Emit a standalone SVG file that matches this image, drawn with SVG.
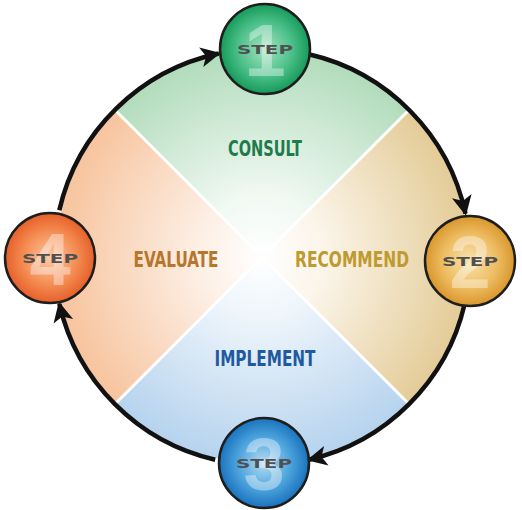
<svg xmlns="http://www.w3.org/2000/svg" width="522" height="510" viewBox="0 0 522 510">
<style>
.lbl{font-family:"Liberation Sans Narrow","DejaVu Sans Condensed","Liberation Sans",sans-serif;font-weight:bold;font-size:21px;text-anchor:middle}
.step{font-family:"DejaVu Sans","Liberation Sans",sans-serif;font-weight:bold;font-size:12px;fill:#505050;text-anchor:middle}
.num{font-family:"Liberation Sans","DejaVu Sans",sans-serif;font-weight:bold;font-size:74px;fill:#ffffff;fill-opacity:0.38;text-anchor:middle}
.node{stroke:#1e1e1e;stroke-width:2.5}
.arc{fill:none;stroke:#111;stroke-width:4.5;marker-end:url(#ah)}
.div{stroke:#ffffff;stroke-width:3}
</style>
<defs>
<marker id="ah" markerUnits="userSpaceOnUse" markerWidth="20" markerHeight="22" viewBox="0 -11 20 22" refX="18" refY="0" orient="auto">
<path d="M0,-10 L20,0 L0,10 L5,0 Z" fill="#111"/>
</marker>
<radialGradient id="gG" cx="262" cy="257" r="206" gradientUnits="userSpaceOnUse"><stop offset="0" stop-color="#ffffff"/><stop offset="0.3" stop-color="#f1f9f3"/><stop offset="1" stop-color="#b2dcbc"/></radialGradient>
<radialGradient id="gT" cx="262" cy="257" r="206" gradientUnits="userSpaceOnUse"><stop offset="0" stop-color="#ffffff"/><stop offset="0.3" stop-color="#fbf5ea"/><stop offset="1" stop-color="#e4cc98"/></radialGradient>
<radialGradient id="gB" cx="262" cy="257" r="206" gradientUnits="userSpaceOnUse"><stop offset="0" stop-color="#ffffff"/><stop offset="0.3" stop-color="#eef5fb"/><stop offset="1" stop-color="#b6d3ee"/></radialGradient>
<radialGradient id="gO" cx="262" cy="257" r="206" gradientUnits="userSpaceOnUse"><stop offset="0" stop-color="#ffffff"/><stop offset="0.3" stop-color="#fdf0e6"/><stop offset="1" stop-color="#f7c49e"/></radialGradient>
<radialGradient id="n1" cx="0.5" cy="0.5" r="0.5"><stop offset="0" stop-color="#a6e2c2"/><stop offset="0.6" stop-color="#4cc08a"/><stop offset="1" stop-color="#169a5a"/></radialGradient>
<radialGradient id="n2" cx="0.5" cy="0.5" r="0.5"><stop offset="0" stop-color="#f8e3b0"/><stop offset="0.6" stop-color="#eebd62"/><stop offset="1" stop-color="#d9962c"/></radialGradient>
<radialGradient id="n3" cx="0.5" cy="0.5" r="0.5"><stop offset="0" stop-color="#b6dcf4"/><stop offset="0.6" stop-color="#4aa2dc"/><stop offset="1" stop-color="#1a72bd"/></radialGradient>
<radialGradient id="n4" cx="0.5" cy="0.5" r="0.5"><stop offset="0" stop-color="#fbcaa6"/><stop offset="0.6" stop-color="#f48c52"/><stop offset="1" stop-color="#e6602a"/></radialGradient>
</defs>
<rect width="522" height="510" fill="#ffffff"/>
<g id="quadrants">
<path d="M262,257 L116.3,111.3 A206,206 0 0 1 407.7,111.3 Z" fill="url(#gG)"/>
<path d="M262,257 L407.7,111.3 A206,206 0 0 1 407.7,402.7 Z" fill="url(#gT)"/>
<path d="M262,257 L407.7,402.7 A206,206 0 0 1 116.3,402.7 Z" fill="url(#gB)"/>
<path d="M262,257 L116.3,402.7 A206,206 0 0 1 116.3,111.3 Z" fill="url(#gO)"/>
<line class="div" x1="116.3" y1="111.3" x2="407.7" y2="402.7"/>
<line class="div" x1="407.7" y1="111.3" x2="116.3" y2="402.7"/>
</g>
<g id="labels">
<text class="lbl" x="265" y="156" fill="#1f7a4c" textLength="74" lengthAdjust="spacingAndGlyphs">CONSULT</text>
<text class="lbl" x="352" y="267" fill="#bf9a2e" textLength="114" lengthAdjust="spacingAndGlyphs">RECOMMEND</text>
<text class="lbl" x="265" y="366" fill="#1f5aa0" textLength="101" lengthAdjust="spacingAndGlyphs">IMPLEMENT</text>
<text class="lbl" x="176" y="267" fill="#b8752c" textLength="85" lengthAdjust="spacingAndGlyphs">EVALUATE</text>
</g>
<g id="connectors">
<path class="arc" d="M308.8,54.3 A208,208 0 0 1 465.5,213.8"/>
<path class="arc" d="M464.7,303.8 A208,208 0 0 1 308.8,459.7"/>
<path class="arc" d="M215.2,459.7 A208,208 0 0 1 59.3,303.8"/>
<path class="arc" d="M59.3,210.2 A208,208 0 0 1 218.8,53.5"/>
</g>
<g id="step1">
<circle class="node" cx="265" cy="49" r="45" fill="url(#n1)"/>
<text class="num" x="265" y="76">1</text>
<text class="step" x="265" y="54" textLength="56" lengthAdjust="spacingAndGlyphs">STEP</text>
</g>
<g id="step2">
<circle class="node" cx="470" cy="261" r="45" fill="url(#n2)"/>
<text class="num" x="470" y="288">2</text>
<text class="step" x="470" y="266" textLength="56" lengthAdjust="spacingAndGlyphs">STEP</text>
</g>
<g id="step3">
<circle class="node" cx="264" cy="463" r="45" fill="url(#n3)"/>
<text class="num" x="264" y="490">3</text>
<text class="step" x="264" y="468" textLength="56" lengthAdjust="spacingAndGlyphs">STEP</text>
</g>
<g id="step4">
<circle class="node" cx="50" cy="258" r="45" fill="url(#n4)"/>
<text class="num" x="50" y="285">4</text>
<text class="step" x="50" y="263" textLength="56" lengthAdjust="spacingAndGlyphs">STEP</text>
</g>
</svg>
